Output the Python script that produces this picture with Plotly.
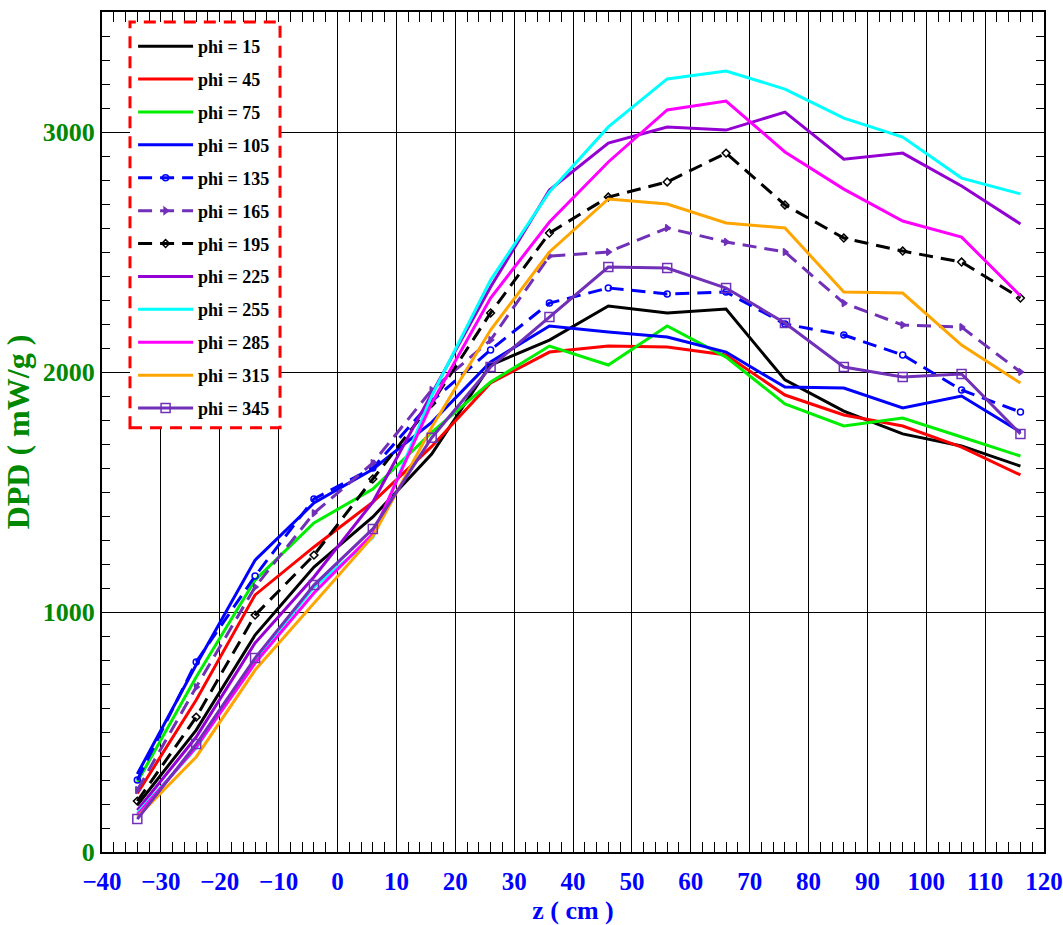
import plotly.graph_objects as go

z = [-34, -24, -14, -4, 6, 16, 26, 36, 46, 56, 66, 76, 86, 96, 106, 116]

phi15 = [196, 508, 904, 1187, 1396, 1658, 2029, 2133, 2275, 2246, 2262, 1967, 1837, 1742, 1692, 1608]
phi45 = [244, 633, 1071, 1271, 1458, 1690, 1954, 2083, 2108, 2104, 2071, 1904, 1821, 1775, 1687, 1571]
phi75 = [292, 729, 1133, 1371, 1512, 1748, 1958, 2108, 2029, 2192, 2062, 1867, 1775, 1808, 1729, 1650]
phi105 = [325, 780, 1216, 1454, 1595, 1790, 2042, 2192, 2167, 2146, 2083, 1937, 1933, 1850, 1900, 1750]
phi135 = [300, 792, 1150, 1471, 1600, 1878, 2092, 2287, 2350, 2325, 2333, 2200, 2154, 2071, 1925, 1833]
phi165 = [258, 687, 1104, 1412, 1621, 1925, 2133, 2483, 2500, 2600, 2542, 2500, 2287, 2196, 2187, 2000]
phi195 = [212, 562, 987, 1237, 1554, 1870, 2246, 2579, 2729, 2792, 2912, 2696, 2558, 2504, 2458, 2308]
phi225 = [174, 479, 871, 1146, 1458, 1910, 2354, 2758, 2954, 3021, 3008, 3083, 2887, 2912, 2775, 2617]
phi255 = [162, 433, 800, 1104, 1310, 1900, 2383, 2750, 3021, 3221, 3254, 3179, 3058, 2979, 2808, 2742]
phi285 = [154, 437, 787, 1079, 1325, 1870, 2308, 2625, 2875, 3092, 3129, 2917, 2762, 2629, 2562, 2317]
phi315 = [146, 396, 758, 1037, 1315, 1770, 2175, 2500, 2721, 2700, 2621, 2600, 2333, 2329, 2112, 1954]
phi345 = [137, 450, 808, 1112, 1346, 1726, 2021, 2229, 2437, 2433, 2350, 2204, 2021, 1979, 1992, 1742]

names = ["phi = 15", "phi = 45", "phi = 75", "phi = 105", "phi = 135", "phi = 165",
         "phi = 195", "phi = 225", "phi = 255", "phi = 285", "phi = 315", "phi = 345"]
series = [phi15, phi45, phi75, phi105, phi135, phi165, phi195, phi225, phi255, phi285, phi315, phi345]

styles = [
    dict(color="#000000", dash="solid", symbol=None),
    dict(color="#ff0000", dash="solid", symbol=None),
    dict(color="#00ee00", dash="solid", symbol=None),
    dict(color="#0000ff", dash="solid", symbol=None),
    dict(color="#0000ff", dash="14px,8px", symbol="circle-open"),
    dict(color="#7030b8", dash="14px,8px", symbol="triangle-right"),
    dict(color="#000000", dash="14px,8px", symbol="diamond-open"),
    dict(color="#9400d3", dash="solid", symbol=None),
    dict(color="#00ffff", dash="solid", symbol=None),
    dict(color="#ff00ff", dash="solid", symbol=None),
    dict(color="#ffa500", dash="solid", symbol=None),
    dict(color="#7030b8", dash="solid", symbol="square-open"),
]

fig = go.Figure()
for i, (nm, ys, st) in enumerate(zip(names, series, styles)):
    if st["symbol"]:
        size = 9 if st["symbol"] == "square-open" else 6
        fig.add_trace(go.Scatter(
            x=z, y=ys, name=nm, mode="lines+markers", legendgroup=f"g{i}",
            line=dict(color=st["color"], width=3, dash=st["dash"]),
            marker=dict(symbol=st["symbol"], size=size, color=st["color"],
                        line=dict(color=st["color"], width=1.5)),
        ))
    else:
        fig.add_trace(go.Scatter(
            x=z, y=ys, name=nm, mode="lines", legendgroup=f"g{i}",
            line=dict(color=st["color"], width=3, dash=st["dash"]),
        ))

serif = "Liberation Serif"

fig.add_shape(type="rect", xref="paper", yref="paper",
              x0=0.0297, x1=0.189, y0=0.505, y1=0.988,
              fillcolor="white", line=dict(color="#ff0000", width=3, dash="12px,8px"),
              layer="above")

fig.update_layout(
    width=1063, height=925,
    margin=dict(l=102, r=19, t=12, b=73),
    paper_bgcolor="white", plot_bgcolor="white",
    showlegend=True,
    legend=dict(x=0.033, y=0.981, xanchor="left", yanchor="top",
                bgcolor="rgba(0,0,0,0)", borderwidth=0,
                font=dict(family=serif, size=18, color="black", weight="bold"),
                tracegroupgap=6.5, itemwidth=55),
    xaxis=dict(range=[-40, 120], tickmode="linear", tick0=-40, dtick=10,
               automargin=False,
               showgrid=True, gridcolor="black", gridwidth=1,
               zeroline=False, showline=True, linecolor="black", linewidth=2, mirror="allticks",
               ticks="inside", ticklen=10, tickcolor="black", tickwidth=1,
               ticklabelstandoff=6,
               minor=dict(dtick=2, ticks="inside", ticklen=10, tickcolor="black", tickwidth=1, showgrid=False),
               tickfont=dict(family=serif, size=25, color="#0000ff", weight="bold"),
               title=dict(text="z ( cm )", font=dict(family=serif, size=26, color="#0000ff", weight="bold"))),
    yaxis=dict(range=[0, 3500], tickmode="array", tickvals=[0, 1000, 2000, 3000],
               automargin=False,
               showgrid=True, gridcolor="black", gridwidth=1,
               zeroline=False, showline=True, linecolor="black", linewidth=2, mirror="allticks",
               ticks="inside", ticklen=10, tickcolor="black", tickwidth=1,
               minor=dict(dtick=100, ticks="inside", ticklen=8, tickcolor="black", tickwidth=1, showgrid=False),
               tickfont=dict(family=serif, size=26, color="#008800", weight="bold"),
               title=dict(text="DPD ( mW/g )", font=dict(family=serif, size=32, color="#008800", weight="bold"))),
)

fig.write_html("out.html")
